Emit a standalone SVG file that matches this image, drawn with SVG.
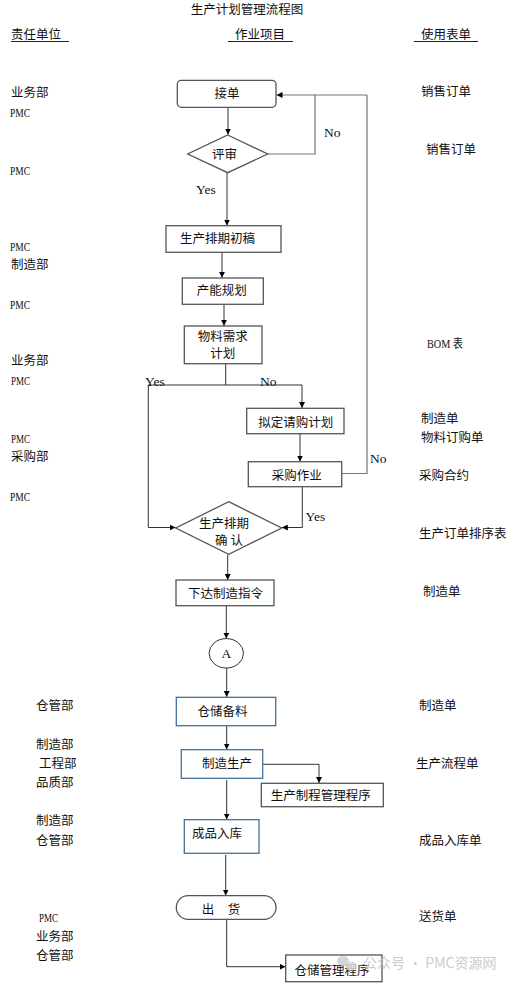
<svg xmlns="http://www.w3.org/2000/svg" width="515" height="985" viewBox="0 0 515 985">
<defs>
<marker id="ah" viewBox="0 0 8 8" refX="8" refY="4" markerWidth="6" markerHeight="6" orient="auto" markerUnits="userSpaceOnUse">
<path d="M0,0 L8,4 L0,8 z" fill="#000"/>
</marker>
</defs>
<style>
text{font-family:"Liberation Serif","Noto Sans CJK SC",serif;font-size:12.5px;fill:#111}
.c{text-anchor:middle}
.pmc{font-family:"Liberation Serif",serif;font-size:13.5px}
.box{fill:#fff;stroke:#555;stroke-width:1.3}
.bbox{fill:#fff;stroke:#41719C;stroke-width:1.3}
.ln{fill:none;stroke:#333;stroke-width:1}
.lg{fill:none;stroke:#777;stroke-width:1.2}
.ul{stroke:#222;stroke-width:1}
.wm{font-family:"Noto Sans CJK SC",sans-serif;font-size:14px;fill:#c4c4c4}
</style>
<rect width="515" height="985" fill="#fff"/>

<g id="title">
<text x="247" y="14" class="c">生产计划管理流程图</text>
</g>
<g id="headers">
<text x="11" y="39">责任单位</text>
<line class="ul" x1="11" y1="41.5" x2="69" y2="41.5"/>
<text x="235" y="39">作业项目</text>
<line class="ul" x1="228" y1="41.5" x2="293" y2="41.5"/>
<text x="421" y="39">使用表单</text>
<line class="ul" x1="414" y1="41.5" x2="478" y2="41.5"/>
</g>

<g id="departments">
<text x="11" y="97">业务部</text>
<text x="10" y="117" class="pmc" textLength="20" lengthAdjust="spacingAndGlyphs">PMC</text>
<text x="10" y="175" class="pmc" textLength="20" lengthAdjust="spacingAndGlyphs">PMC</text>
<text x="10" y="251" class="pmc" textLength="20" lengthAdjust="spacingAndGlyphs">PMC</text>
<text x="11" y="269">制造部</text>
<text x="10" y="309" class="pmc" textLength="20" lengthAdjust="spacingAndGlyphs">PMC</text>
<text x="11" y="365">业务部</text>
<text x="11" y="385" class="pmc" textLength="19" lengthAdjust="spacingAndGlyphs">PMC</text>
<text x="11" y="443" class="pmc" textLength="19" lengthAdjust="spacingAndGlyphs">PMC</text>
<text x="11" y="461">采购部</text>
<text x="10" y="501" class="pmc" textLength="20" lengthAdjust="spacingAndGlyphs">PMC</text>
<text x="36" y="710">仓管部</text>
<text x="36" y="749">制造部</text>
<text x="39" y="768">工程部</text>
<text x="36" y="787">品质部</text>
<text x="36" y="825">制造部</text>
<text x="36" y="845">仓管部</text>
<text x="39" y="922" class="pmc" textLength="19" lengthAdjust="spacingAndGlyphs">PMC</text>
<text x="36" y="941">业务部</text>
<text x="36" y="960">仓管部</text>
</g>

<g id="forms">
<text x="421" y="96">销售订单</text>
<text x="426" y="154">销售订单</text>
<text x="427" y="347.5" textLength="36" lengthAdjust="spacingAndGlyphs">BOM 表</text>
<text x="421" y="423">制造单</text>
<text x="421" y="442">物料订购单</text>
<text x="419" y="480">采购合约</text>
<text x="419" y="538">生产订单排序表</text>
<text x="423" y="596">制造单</text>
<text x="419" y="710">制造单</text>
<text x="416" y="768">生产流程单</text>
<text x="419" y="845">成品入库单</text>
<text x="419" y="921">送货单</text>
</g>

<g id="connectors">
<line class="ln" x1="228" y1="107" x2="228" y2="134.5" marker-end="url(#ah)"/>
<polyline class="lg" points="268,154 315,154 315,95 276.5,95" marker-end="url(#ah)"/>
<line class="lg" x1="315" y1="95" x2="367" y2="95"/>
<polyline class="lg" points="342,473.5 367,473.5 367,95"/>
<line class="ln" x1="227" y1="173" x2="227" y2="225.5" marker-end="url(#ah)"/>
<line class="ln" x1="222" y1="252.5" x2="222" y2="277.8" marker-end="url(#ah)"/>
<line class="ln" x1="224" y1="304.5" x2="224" y2="325.8" marker-end="url(#ah)"/>
<line class="ln" x1="225.7" y1="364" x2="225.7" y2="385"/>
<line class="ln" x1="148.3" y1="385" x2="302" y2="385"/>
<polyline class="ln" points="148.3,385 148.3,527.5 175.5,527.5" marker-end="url(#ah)"/>
<line class="ln" x1="302" y1="385" x2="302" y2="408" marker-end="url(#ah)"/>
<line class="ln" x1="300" y1="434" x2="300" y2="461.5" marker-end="url(#ah)"/>
<polyline class="ln" points="302.3,487 302.3,527.5 281.8,527.5" marker-end="url(#ah)"/>
<line class="ln" x1="227.7" y1="554.5" x2="227.7" y2="580" marker-end="url(#ah)"/>
<line class="ln" x1="226.3" y1="606" x2="226.3" y2="638.6" marker-end="url(#ah)"/>
<line class="ln" x1="226.7" y1="668" x2="226.7" y2="697" marker-end="url(#ah)"/>
<line class="ln" x1="226.7" y1="726" x2="226.7" y2="749.5" marker-end="url(#ah)"/>
<polyline class="ln" points="263,764.3 319,764.3 319,783" marker-end="url(#ah)"/>
<line class="ln" x1="226.7" y1="780" x2="226.7" y2="819.5" marker-end="url(#ah)"/>
<line class="ln" x1="225.7" y1="855" x2="225.7" y2="895.5" marker-end="url(#ah)"/>
<polyline class="ln" points="226.7,919.5 226.7,966.7 285.5,966.7" marker-end="url(#ah)"/>
</g>

<g id="labels">
<text x="324" y="136.5" class="pmc">No</text>
<text x="196" y="193.5" class="pmc">Yes</text>
<text x="145" y="385.5" class="pmc">Yes</text>
<text x="260" y="385.5" class="pmc">No</text>
<text x="370" y="462.5" class="pmc">No</text>
<text x="305.5" y="520.5" class="pmc">Yes</text>
</g>

<g id="n-jiedan">
<rect class="box" x="177.3" y="80.3" width="98.7" height="27" rx="4"/>
<text x="227" y="97.5" class="c">接单</text>
</g>
<g id="n-pingshen">
<polygon class="box" points="227.7,135 267.7,154 227.7,172.7 187.7,154"/>
<text x="224.5" y="159" class="c">评审</text>
</g>
<g id="n-chugao">
<rect class="box" x="166" y="225.7" width="115" height="26.6"/>
<text x="217.5" y="242.5" class="c">生产排期初稿</text>
</g>
<g id="n-channeng">
<rect class="box" x="182.3" y="278" width="81" height="26.3"/>
<text x="221.7" y="294.5" class="c">产能规划</text>
</g>
<g id="n-wuliao">
<rect class="box" x="184.3" y="326" width="77.7" height="37.7"/>
<text x="222.7" y="341" class="c">物料需求</text>
<text x="222.7" y="358" class="c">计划</text>
</g>
<g id="n-qinggou">
<rect class="box" x="246.7" y="408.3" width="97.3" height="25.4"/>
<text x="295.8" y="426.5" class="c">拟定请购计划</text>
</g>
<g id="n-caigou">
<rect class="box" x="248.3" y="461.7" width="93.4" height="25"/>
<text x="296.7" y="479.5" class="c">采购作业</text>
</g>
<g id="n-queren">
<polygon class="box" points="228.7,501.7 281.7,528 228.7,554.3 175.7,528"/>
<text x="224" y="527.5" class="c">生产排期</text>
<text x="229" y="544.5" class="c">确  认</text>
</g>
<g id="n-xiada">
<rect class="box" x="176" y="580" width="98" height="25.7"/>
<text x="225.5" y="597.5" class="c">下达制造指令</text>
</g>
<g id="n-A">
<ellipse class="ln" cx="226.3" cy="653.3" rx="17.2" ry="14.7" fill="#fff" stroke="#222"/>
<text x="226.3" y="658" class="c pmc">A</text>
</g>
<g id="n-beiliao">
<rect class="bbox" x="176.3" y="697.3" width="99.4" height="28.4"/>
<text x="222.5" y="715.5" class="c">仓储备料</text>
</g>
<g id="n-zhizao">
<rect class="bbox" x="181.3" y="749.7" width="81.4" height="28.6"/>
<text x="227" y="767.8" class="c">制造生产</text>
</g>
<g id="n-zhicheng">
<rect class="box" x="261.3" y="783.3" width="122" height="23.4" stroke="#222"/>
<text x="320.7" y="799.5" class="c">生产制程管理程序</text>
</g>
<g id="n-ruku">
<rect class="bbox" x="184.3" y="819.7" width="74.7" height="33.6"/>
<text x="217" y="837.8" class="c">成品入库</text>
</g>
<g id="n-chuhuo">
<rect class="box" x="176.3" y="895.7" width="99.7" height="23.6" rx="11.8" stroke="#222"/>
<text x="208" y="913.5" class="c">出</text>
<text x="234" y="913.5" class="c">货</text>
</g>
<g id="n-cangchu">
<rect class="box" x="285.7" y="955" width="96.3" height="26.7" stroke="#222"/>
<text x="332" y="974.5" class="c">仓储管理程序</text>
</g>

<g id="watermark" opacity="0.85">
<ellipse cx="343" cy="961" rx="6" ry="5" fill="#cfcfcf"/>
<ellipse cx="351" cy="966" rx="5.5" ry="4.5" fill="#d8d8d8"/>
<text x="363" y="968" class="wm">公众号 · PMC资源网</text>
</g>
</svg>
